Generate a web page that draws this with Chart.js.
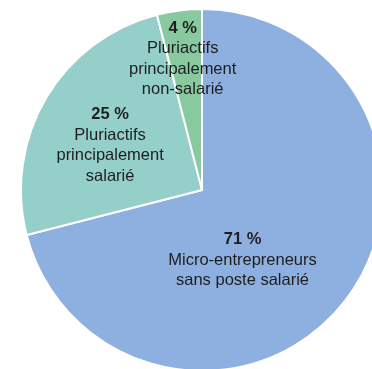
<!DOCTYPE html>
<html>
<head>
<meta charset="utf-8">
<script src="https://cdn.jsdelivr.net/npm/chart.js@4/dist/chart.umd.min.js"></script>
<style>
  html, body { margin: 0; padding: 0; background: #fff; overflow: hidden; width: 372px; height: 369px; }
  #wrap { position: absolute; left: 20px; top: 8px; }
</style>
</head>
<body>
<div id="wrap"><canvas id="pie" width="364" height="364"></canvas></div>
<script>
const categories = [
  ["Micro-entrepreneurs", "sans poste salarié"],
  ["Pluriactifs", "principalement", "salarié"],
  ["Pluriactifs", "principalement", "non-salarié"]
];
const shares = [71, 25, 4];
const sliceColors = ["#8eb0e0", "#94cfca", "#88c9a0"];
// where each label sits relative to the slice centre (px)
const labelShift = [[-31, -6], [-14, -29], [-8, -72]];

const pieLabels = {
  id: "pieLabels",
  afterDatasetsDraw(chart) {
    const ctx = chart.ctx;
    const meta = chart.getDatasetMeta(0);
    ctx.save();
    ctx.fillStyle = "#1e1e1e";
    ctx.textAlign = "center";
    ctx.textBaseline = "middle";
    meta.data.forEach((arc, i) => {
      const pos = arc.tooltipPosition();
      const x = pos.x + labelShift[i][0];
      let y = pos.y + labelShift[i][1];
      ctx.font = "bold 16.5px 'Liberation Sans', Arial, sans-serif";
      ctx.fillText(shares[i] + " %", x, y);
      ctx.font = "16.5px 'Liberation Sans', Arial, sans-serif";
      categories[i].forEach((line) => {
        y += 20.5;
        ctx.fillText(line, x, y);
      });
    });
    ctx.restore();
  }
};

new Chart(document.getElementById("pie"), {
  type: "pie",
  data: {
    labels: categories.map((c) => c.join(" ")),
    datasets: [{
      data: shares,
      backgroundColor: sliceColors,
      borderColor: "#ffffff",
      borderWidth: 2
    }]
  },
  options: {
    responsive: false,
    animation: false,
    layout: { padding: 0 },
    plugins: {
      legend: { display: false },
      tooltip: { enabled: false }
    }
  },
  plugins: [pieLabels]
});
</script>
</body>
</html>
